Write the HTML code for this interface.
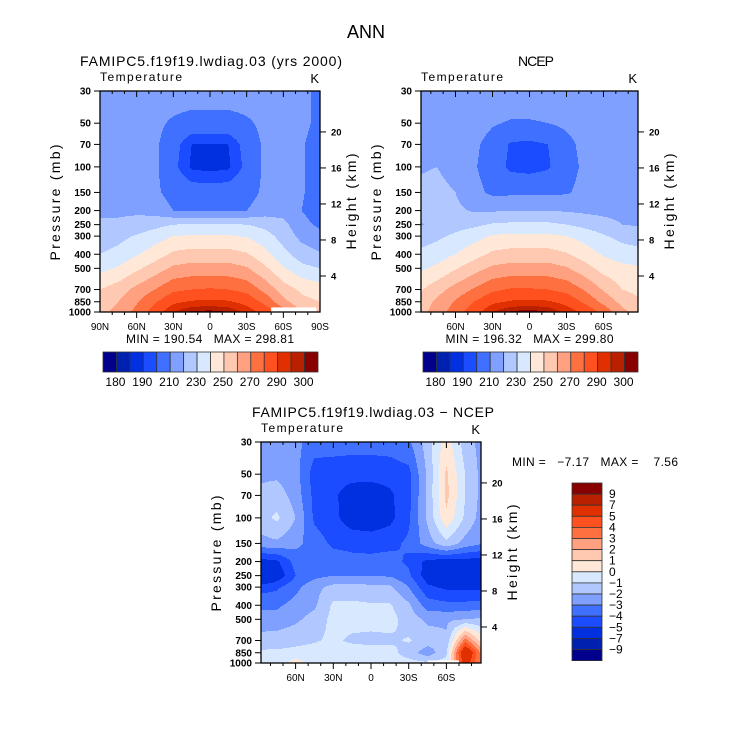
<!DOCTYPE html>
<html><head><meta charset="utf-8">
<style>
html,body{margin:0;padding:0;background:#fff;}
svg{display:block;font-family:"Liberation Sans",sans-serif;}
</style></head>
<body>
<svg id="root" width="733" height="756" viewBox="0 0 733 756" xmlns="http://www.w3.org/2000/svg">
<text x="366" y="38" font-size="18" text-anchor="middle">ANN</text>
</svg>
<script>
const levels = [30,50,70,100,150,200,250,300,400,500,700,850,1000];
const lats = [90,75,60,45,30,15,0,-15,-30,-45,-60,-75,-90];
const colors = ["#00008c","#0020b0","#0030e0","#1c4cff","#4070ff","#80a0ff","#b0c8ff","#d8e8ff","#ffe8d8","#ffc8b0","#ffa080","#ff7040","#ff5020","#e03000","#b82000","#880000"];
const tempThresholds = [170,180,190,195,205,215,225,235,245,255,265,275,285,292,297];
const tempBarLabels = ["180","190","210","230","250","270","290","300"];
const diffThresholds = [-9,-7,-5,-4,-3,-2,-1,0,1,2,3,4,5,7,9];
const diffBarLabels = ["9","7","5","4","3","2","1","0","\u22121","\u22122","\u22123","\u22124","\u22125","\u22127","\u22129"];
const pLabels = ["30","50","70","100","150","200","250","300","400","500","700","850","1000"];
const hTicks = [4,8,12,16,20];
const modelT = [
[212,212,212,212,212,212,212,212,212,212,211,208,202],
[212,212,211,208,203,200,200,200,203,208,211,208,202],
[212,211,210,207,198,190,190,190,198,207,210,206,200],
[212,211,210,207,197,189,188,189,197,207,210,206,200],
[213,212,211,207,201,199,199,199,201,207,210,206,200],
[214,213,213,211,205,204,204,204,205,210,211,205,200],
[216,217,219,222,225,226,226,226,225,222,218,208,203],
[220,222,226,230,235,236,236,236,234,229,221,212,208],
[225,228,234,240,247,249,249,249,246,238,228,220,216],
[232,236,243,250,257,259,259,259,256,247,236,228,225],
[245,250,258,265,273,275,276,275,272,262,250,243,240],
[250,255,264,274,283,286,287,286,282,272,258,248,245],
[252,258,268,280,292,298,299,297,290,282,270,255,250]];
const ncepT = [
[212,212,213,212,212,212,212,212,212,212,212,212,212],
[212,212,212,210,206,204,204,205,207,210,212,212,207],
[212,212,211,207,201,194,193,195,202,208,212,211,206],
[214,215,211,206,200,193,192,194,201,207,212,211,207],
[217,218,215,208,203,203,203,203,204,208,211,212,210],
[219,219,217,214,214,215,215,215,214,213,212,212,212],
[214,217,221,223,226,227,227,227,225,222,219,215,214],
[220,223,227,231,236,237,237,237,235,231,226,222,220],
[227,230,235,241,247,249,249,249,246,240,234,230,228],
[233,237,244,251,257,259,259,259,256,249,241,238,236],
[243,251,259,266,273,276,276,275,272,264,254,245,242],
[248,257,266,275,283,286,287,286,282,273,262,252,246],
[250,260,270,281,292,298,300,297,290,283,272,258,250]];
const diffT = [
[-2.5,-2.5,-2.7,-3.5,-3.5,-3.6,-3.6,-3.5,-3.2,-1.5,0.5,-1.5,-2.5],
[-2.2,-2.2,-2.6,-4.5,-4.6,-4.6,-4.6,-4.6,-4.3,-1.8,1.2,-1.0,-2.5],
[-1.8,-1.5,-2.4,-4.3,-4.8,-5.6,-5.7,-5.2,-4.3,-1.8,1.3,-1.0,-2.5],
[-1.5,-0.8,-2.0,-4.2,-4.7,-5.6,-5.7,-5.3,-4.2,-1.8,0.8,-1.2,-2.6],
[-2.4,-2.2,-2.7,-3.5,-4.2,-4.3,-4.4,-4.3,-3.8,-2.5,-1.3,-2.4,-3.0],
[-5.5,-5.2,-3.6,-3.4,-3.5,-3.7,-3.7,-3.6,-4.2,-5.3,-5.5,-5.5,-5.5],
[-7.2,-5.8,-4.0,-3.3,-3.0,-3.1,-3.1,-3.1,-3.8,-5.6,-6.0,-6.0,-7.2],
[-4.5,-4.2,-3.3,-2.3,-1.7,-1.6,-1.7,-1.8,-3.0,-4.8,-5.2,-5.2,-5.3],
[-3.2,-3.2,-2.6,-2.2,-0.8,-0.8,-0.9,-0.9,-1.8,-3.5,-3.7,-3.7,-3.5],
[-2.6,-2.6,-2.2,-1.6,-0.7,-0.6,-0.6,-0.6,-1.5,-2.2,-2.2,-2.0,-1.8],
[-1.6,-1.5,-1.3,-1.1,-0.8,-1.2,-1.3,-1.2,-0.9,-1.5,-1.8,3.5,0],
[-0.8,-0.8,-0.7,-0.6,-0.4,-0.4,-0.5,-0.6,-1.5,-2.6,-1.2,7.0,2],
[-0.6,-0.6,0.5,-0.5,-0.5,-0.5,-0.5,-0.5,-0.6,-0.8,-0.6,6.0,2]];

const NS = "http://www.w3.org/2000/svg";
const root = document.getElementById("root");
function mk(tag, attrs, parent){
  const e = document.createElementNS(NS, tag);
  for (const k in attrs) e.setAttribute(k, attrs[k]);
  (parent||root).appendChild(e);
  return e;
}
function txt(x,y,s,size,anchor,parent){
  const t = mk("text",{x:x,y:y,"font-size":size,"text-anchor":anchor||"middle"},parent);
  t.textContent = s;
  return t;
}
const LT = Math.log10(30), LB = Math.log10(1000);
function sample(grid, lat, p){
  let fi = (90 - lat)/15; fi = Math.max(0, Math.min(12, fi));
  const lp = Math.log10(p);
  let fj = 0;
  for (let j=0;j<levels.length-1;j++){
    const a = Math.log10(levels[j]), b = Math.log10(levels[j+1]);
    if (lp >= a && lp <= b){ fj = j + (lp-a)/(b-a); break; }
    if (lp > b) fj = j+1;
  }
  const i0 = Math.min(11, Math.floor(fi)), j0 = Math.min(11, Math.floor(fj));
  const u = fi - i0, v = fj - j0;
  return (1-u)*(1-v)*grid[j0][i0] + u*(1-v)*grid[j0][i0+1] + (1-u)*v*grid[j0+1][i0] + u*v*grid[j0+1][i0+1];
}
function colorIdx(val, th){
  let k = 0; while (k < th.length && val >= th[k]) k++; return k;
}

function panel(o){
  const g = mk("g",{});
  
  
  const x0=o.x, y0=o.y, w=o.w, h=o.h;
  const xOf = lat => x0 + w/2 - lat*(o.degPx);
  const yOf = p => y0 + h*(Math.log10(p)-LT)/(LB-LT);
  const latOf = px => (x0 + w/2 - px)/o.degPx;
  const pOf = py => Math.pow(10, LT + (py - y0)/h*(LB-LT));
  const field = mk("g",{},g);
  
  
  for (let r=0; r<h; r++){
    const p = pOf(y0 + r + 0.5);
    let start = 0, cur = -1;
    for (let c=0; c<=w; c++){
      let k = -1;
      if (c < w) k = colorIdx(sample(o.grid, latOf(x0+c+0.5), p), o.th);
      if (k !== cur){
        if (cur >= 0){
          const rc = mk("rect",{x:x0+start,y:y0+r,width:c-start,height:1.05,fill:colors[cur]},field);
          
          
        }
        start = c; cur = k;
      }
    }
  }
  if (o.mask){
    const m = mk("rect",{x:xOf(o.mask[0]),y:yOf(o.mask[1]),width:xOf(o.mask[2])-xOf(o.mask[0]),height:y0+h-yOf(o.mask[1]),fill:"#fff"},g);
    
    
  }
  const fr = mk("rect",{x:x0,y:y0,width:w,height:h,fill:"none",stroke:"#000","stroke-width":1.3},g);
  
  
  for (let lat=-80; lat<=80; lat+=10){
    const X = xOf(lat); if (X<x0||X>x0+w) continue;
    const major = lat%30===0;
    mk("line",{x1:X,y1:y0+h,x2:X,y2:y0+h+(major?6:3),stroke:"#000"},g);
    mk("line",{x1:X,y1:y0,x2:X,y2:y0+(major?6:3),stroke:"#000"},g);
  }
  o.latLabels.forEach(([lat,s])=>{
    const t = txt(xOf(lat), y0+h+18, s, 10, "middle", g);
    
    
  });
  levels.forEach((p,i)=>{
    const Y = yOf(p);
    mk("line",{x1:x0-6,y1:Y,x2:x0,y2:Y,stroke:"#000"},g);
    const t = txt(x0-9, Y+3.5, pLabels[i], 10, "end", g);
    
    
    t.setAttribute('font-weight','bold');
  });
  hTicks.forEach(km=>{
    const Y = yOf(1000*Math.exp(-km/7));
    mk("line",{x1:x0+w,y1:Y,x2:x0+w+6,y2:Y,stroke:"#000"},g);
    const t = txt(x0+w+11, Y+3.5, String(km), 9.5, "start", g);
    
    
    t.setAttribute('font-weight','bold');
  });
  const yl = txt(0,0,"Pressure (mb)",14,"middle",g);
  yl.setAttribute("transform",`translate(${x0-40},${y0+h/2+1}) rotate(-90)`);
  yl.setAttribute("textLength","116");
  
  
  const hl = txt(0,0,"Height (km)",14,"middle",g);
  hl.setAttribute("transform",`translate(${x0+w+36},${y0+h/2}) rotate(-90)`);
  hl.setAttribute("textLength","96");
  
  
  const tt = txt(x0,y0-10,"Temperature",12,"start",g);
  tt.setAttribute("textLength","82");
  
  
  const kk = txt(x0+w-1,y0-8,"K",13,"end",g);
  
  
  const ti = txt(o.titleX,y0-25,o.title,14,"middle",g);
  ti.setAttribute("textLength", o.titleLen);
  
  
  if (o.minmax){
    const mm = txt(x0+w/2,y0+h+31,o.minmax,12,"middle",g);
    
    
    mm.setAttribute("textLength","168");
    mm.style.whiteSpace='pre';
  }
}

function hbar(x,y,w,h,name){
  const g = mk("g",{});
  
  
  const bw = w/colors.length;
  colors.forEach((c,i)=>{
    const r = mk("rect",{x:x+i*bw,y:y,width:bw,height:h,fill:c,stroke:"#333","stroke-width":0.8},g);
    
    
  });
  tempBarLabels.forEach((s,i)=>{
    const t = txt(x+bw*(1+2*i)-1, y+h+14, s, 12, "middle", g);
    
    
  });
}

panel({name:"model-panel",x:100,y:91,w:220,h:221,degPx:220/180,grid:modelT,th:tempThresholds,
  latLabels:[[90,"90N"],[60,"60N"],[30,"30N"],[0,"0"],[-30,"30S"],[-60,"60S"],[-90,"90S"]],
  title:"FAMIPC5.f19f19.lwdiag.03 (yrs 2000)",titleX:211,titleLen:262,minmax:"MIN = 190.54   MAX = 298.81",mask:[-50,930,-87]});
panel({name:"ncep-panel",x:421,y:91,w:217,h:221,degPx:74/60,grid:ncepT,th:tempThresholds,
  latLabels:[[60,"60N"],[30,"30N"],[0,"0"],[-30,"30S"],[-60,"60S"]],
  title:"NCEP",titleX:536,titleLen:36,minmax:"MIN = 196.32   MAX = 299.80"});
panel({name:"difference-panel",x:261,y:442,w:220,h:221,degPx:37.7/30,grid:diffT,th:diffThresholds,
  latLabels:[[60,"60N"],[30,"30N"],[0,"0"],[-30,"30S"],[-60,"60S"]],
  title:"FAMIPC5.f19f19.lwdiag.03 \u2212 NCEP",titleX:373,titleLen:242,mask:[-45,960,-70]});
hbar(103,352,215,20,"model-colorbar");
hbar(423,352,215,20,"ncep-colorbar");

(function(){
  const g = mk("g",{});
  
  
  const x=572,y=483,w=30,bh=11.1;
  const rev = colors.slice().reverse();
  rev.forEach((c,i)=>{
    const r = mk("rect",{x:x,y:y+i*bh,width:w,height:bh,fill:c,stroke:"#333","stroke-width":0.8},g);
    
    
  });
  diffBarLabels.forEach((s,i)=>{
    const t = txt(x+w+7, y+(i+1)*bh+4, s, 12, "start", g);
    
    
  });
  const mm = txt(512,466,"MIN =   \u22127.17   MAX =    7.56",12,"start",g);
  mm.style.whiteSpace='pre';
  mm.setAttribute("textLength","166");
  
  
})();
</script>
</body></html>
